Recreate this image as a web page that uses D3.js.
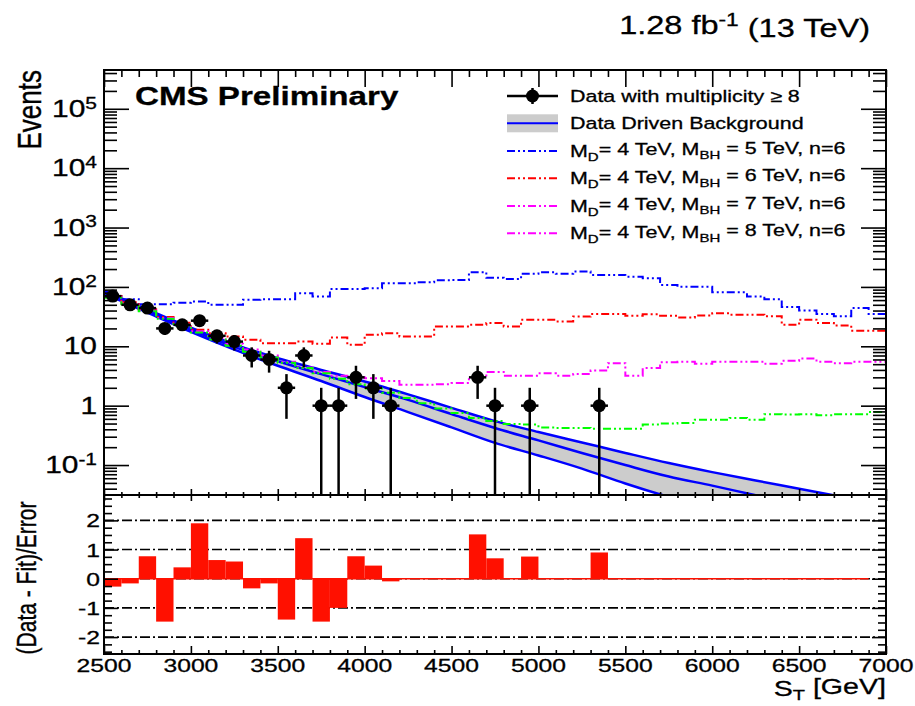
<!DOCTYPE html>
<html><head><meta charset="utf-8">
<script src="https://cdn.jsdelivr.net/npm/d3@7"></script>
<style>
body{margin:0;background:#fff}
svg{display:block}
text{font-family:"Liberation Sans",Arial,Helvetica,sans-serif;fill:#000;stroke:#000;stroke-width:0.3}
</style>
</head><body>
<svg id="c" width="915" height="706"></svg>
<script>
// ---------------- DATA ----------------
const binLow = [2500,2600,2700,2800,2900,3000,3100,3200,3300,3400,3500,3600,3700,3800,3900,4000,4100,4200,4300,4400,4500,4600,4700,4800,4900,5000,5100,5200,5300,5400,5500,5600,5700,5800,5900,6000,6100,6200,6300,6400,6500,6600,6700,6800,6900];
const sigMBH5 = [70,62,51,51,54,57,50,50,61,62,62,78,69,92,92,95,115,115,120,129,131,177,142,136,166,177,167,181,159,159,149,140,108,101,101,81,81,69,62,46,40,35,32,44,35];
const sigMBH6 = [70,55,42,31,25,19,16.6,14.6,12.9,11.3,11.3,12,11,14,10.6,15.6,16.6,14.6,14.6,21.5,21.5,23,24.6,21.5,27.9,27.9,26.2,31.8,35,35,32.6,34.8,32.6,30.5,33,36,34,34,32,23,28,24.6,22.4,18.2,18.2];
const sigMBH7 = [67,52,40,30,23,18,14,11,8.8,7,5.5,4.4,3.7,3.2,3.0,2.9,2.6,2.25,2.25,2.3,2.4,3.0,3.7,3.2,3.2,3.5,3.2,3.4,3.9,5.2,3.2,4.3,5.4,5.5,5.1,5.5,5.5,5.5,5.1,5.7,6.2,5.5,5.2,5.5,5.5];
const sigMBH8 = [66,51,39,29,22,17,13,10.2,8.1,6.5,5.3,4.3,3.5,2.85,2.3,1.95,1.65,1.35,1.1,0.9,0.75,0.62,0.55,0.49,0.48,0.43,0.42,0.42,0.41,0.41,0.41,0.48,0.5,0.51,0.58,0.58,0.62,0.58,0.72,0.71,0.72,0.69,0.72,0.72,0.78];

const bgX    = [2500,2750,3000,3250,3500,3750,4000,4250,4500,4750,5000,5250,5500,5750,6000,6250,6500,6750,7000];
const bgFit  = [82,39,19,9.8,5.6,3.4,2.05,1.25,0.72,0.42,0.26,0.16,0.10,0.064,0.045,0.031,0.022,0.016,0.012];
const bgUp   = [86,41.5,20.5,10.8,6.3,4.0,2.55,1.55,0.92,0.55,0.36,0.24,0.16,0.108,0.076,0.055,0.04,0.029,0.021];
const bgDown = [78,37,17.5,8.8,4.7,2.6,1.4,0.78,0.43,0.236,0.145,0.087,0.049,0.029,0.018,0.011,0.007,0.0045,0.003];

const dataX   = [2550,2650,2750,2850,2950,3050,3150,3250,3350,3450,3550,3650,3750,3850,3950,4050,4150,4650,4750,4950,5350];
const dataN   = [70,50,44,20,23,27,15,12,7,6,2,7,1,1,3,2,1,3,1,1,1];
const dataErr = [8.4,7.1,6.6,4.5,4.8,5.2,3.9,3.5,2.6,2.4,1.4,2.6,1,1,1.7,1.4,1,1.7,1,1,1];

const ratioVals = [-0.27,-0.16,0.77,-1.47,0.39,1.9,0.64,0.59,-0.33,-0.16,-1.4,1.39,-1.47,-1.0,0.77,0.45,-0.09,0,0,0,0,1.52,0.7,0,0.76,0,0,0,0.9,0,0,0,0,0,0,0,0,0,0,0,0,0,0,0];

const xTickLabels = ["2500","3000","3500","4000","4500","5000","5500","6000","6500","7000"];
const yTickVals = [0.1,1,10,100,1000,10000,100000];
const yTickLabels = [["10","-1"],["1",""],["10",""],["10","2"],["10","3"],["10","4"],["10","5"]];
const rTickVals = [-2,-1,0,1,2];

const legendEntries = [
  {type:"data", text:"Data with multiplicity \u2265 8"},
  {type:"band", text:"Data Driven Background"},
  {type:"line", color:"#0000ff", mbh:"5"},
  {type:"line", color:"#ff0000", mbh:"6"},
  {type:"line", color:"#ff00ff", mbh:"7"},
  {type:"line", color:"#ff00ff", mbh:"8"}
];

// ---------------- LAYOUT ----------------
const L=104, R=886, T=70, MB=495, RB=654;
const SX=1.3;
const svg=d3.select("#c");
const x=d3.scaleLinear().domain([2500,7000]).range([L,R]);
const y=d3.scaleLog().domain([0.0313,4.5e5]).range([MB,T]);
const yr=d3.scaleLinear().domain([-2.58,2.87]).range([RB,MB]);

function txt(g,x0,y0,anchor,size,weight,rot){
  return g.append("text")
    .attr("transform",`translate(${x0},${y0}) scale(${SX},1)`+(rot?` rotate(${rot})`:""))
    .attr("text-anchor",anchor).attr("font-size",size).attr("font-weight",weight||"normal");
}

const defs=svg.append("defs");
defs.append("clipPath").attr("id","cm").append("rect").attr("x",L).attr("y",T).attr("width",R-L).attr("height",MB-T);
defs.append("clipPath").attr("id","cr").append("rect").attr("x",L).attr("y",MB).attr("width",R-L).attr("height",RB-MB);

// ---------------- MAIN PANEL ----------------
const gm=svg.append("g").attr("clip-path","url(#cm)");
const bg=bgX.map((v,i)=>({x:v,c:bgFit[i],u:bgUp[i],d:bgDown[i]}));
gm.append("path").datum(bg)
  .attr("d",d3.area().x(d=>x(d.x)).y0(d=>y(d.d)).y1(d=>y(d.u)).curve(d3.curveMonotoneX))
  .attr("fill","#cccccc");
["u","c","d"].forEach(k=>{
  gm.append("path").datum(bg)
    .attr("d",d3.line().x(d=>x(d.x)).y(d=>y(d[k])).curve(d3.curveMonotoneX))
    .attr("fill","none").attr("stroke","#0000ff").attr("stroke-width",2.5);
});

const dash="8,3,2,3,2,3";
const sigs=[[sigMBH5,"#0000ff"],[sigMBH6,"#ff0000"],[sigMBH7,"#ff00ff"],[sigMBH8,"#00ff00"]];
sigs.forEach(([vals,col])=>{
  const pts=binLow.map((b,i)=>[b,vals[i]]);
  pts.push([7000,vals[vals.length-1]]);
  gm.append("path").datum(pts)
    .attr("d",d3.line().x(d=>x(d[0])).y(d=>y(d[1])).curve(d3.curveStepAfter))
    .attr("fill","none").attr("stroke",col).attr("stroke-width",2).attr("stroke-dasharray",dash);
});

const gd=gm.append("g");
dataX.forEach((cx,i)=>{
  const n=dataN[i], e=dataErr[i];
  gd.append("line").attr("x1",x(cx-50)).attr("x2",x(cx+50)).attr("y1",y(n)).attr("y2",y(n))
    .attr("stroke","#000").attr("stroke-width",2.5);
  gd.append("line").attr("x1",x(cx)).attr("x2",x(cx)).attr("y1",y(n+e)).attr("y2",y(Math.max(n-e,1e-3)))
    .attr("stroke","#000").attr("stroke-width",2.5);
  gd.append("circle").attr("cx",x(cx)).attr("cy",y(n)).attr("r",6.5).attr("fill","#000");
});

// ---------------- RATIO PANEL ----------------
const gr=svg.append("g").attr("clip-path","url(#cr)");
rTickVals.forEach(v=>{
  gr.append("line").attr("x1",L).attr("x2",R).attr("y1",yr(v)).attr("y2",yr(v))
    .attr("stroke","#000").attr("stroke-width",1.6).attr("stroke-dasharray","10,3,2,3");
});
ratioVals.forEach((v,i)=>{
  if(v===0) return;
  const b=binLow[i];
  gr.append("rect").attr("x",x(b)).attr("width",x(b+100)-x(b))
    .attr("y",yr(Math.max(v,0))).attr("height",Math.abs(yr(v)-yr(0)))
    .attr("fill","#ff1000");
});
gr.append("line").attr("x1",x(binLow[0])).attr("x2",x(binLow[ratioVals.length-1]+100))
  .attr("y1",yr(0)).attr("y2",yr(0)).attr("stroke","#ff1000").attr("stroke-width",1.6);

// ---------------- AXES / TICKS ----------------
const xMaj=d3.range(2500,7001,500), xMin=d3.range(2500,7001,100).filter(v=>v%500!==0);
const yMin=[];
[0.01,0.1,1,10,100,1000,10000,100000].forEach(d=>{for(let k=2;k<=9;k++){const v=k*d; if(v>0.0313&&v<4.5e5) yMin.push(v);}});
const rMin=d3.range(-2.5,2.76,0.25).filter(v=>Math.abs(v-Math.round(v))>1e-6);

function ticks(g,scale,orient,pos,vals,len){
  let ax;
  if(orient==="right") ax=d3.axisRight(scale);
  if(orient==="left") ax=d3.axisLeft(scale);
  if(orient==="top") ax=d3.axisTop(scale);
  if(orient==="bottom") ax=d3.axisBottom(scale);
  ax.tickValues(vals).tickSize(len).tickFormat("").tickSizeOuter(0);
  const tr=(orient==="right"||orient==="left")?`translate(${pos},0)`:`translate(0,${pos})`;
  const a=g.append("g").attr("transform",tr).call(ax);
  a.select(".domain").remove();
  a.selectAll("line").attr("stroke","#000").attr("stroke-width",1.6);
}
const ga=svg.append("g");
ticks(ga,y,"right",L,yTickVals,25);
ticks(ga,y,"right",L,yMin,13);
ticks(ga,y,"left",R,yTickVals,25);
ticks(ga,y,"left",R,yMin,13);
ticks(ga,x,"bottom",T,xMaj,17);
ticks(ga,x,"bottom",T,xMin,7);
ticks(ga,x,"top",MB,xMaj,6);
ticks(ga,x,"top",MB,xMin,3);
ticks(ga,yr,"right",L,rTickVals,14);
ticks(ga,yr,"right",L,rMin,8);
ticks(ga,yr,"left",R,rTickVals,14);
ticks(ga,yr,"left",R,rMin,8);
ticks(ga,x,"bottom",MB,xMaj,6);
ticks(ga,x,"bottom",MB,xMin,3);
ticks(ga,x,"top",RB,xMaj,8);
ticks(ga,x,"top",RB,xMin,4);

svg.append("rect").attr("x",L).attr("y",T).attr("width",R-L).attr("height",MB-T).attr("fill","none").attr("stroke","#000").attr("stroke-width",2);
svg.append("rect").attr("x",L).attr("y",MB).attr("width",R-L).attr("height",RB-MB).attr("fill","none").attr("stroke","#000").attr("stroke-width",2);

// tick labels
const gl=svg.append("g");
yTickVals.forEach((v,i)=>{
  const t=txt(gl,97,y(v)+8,"end",23);
  t.append("tspan").text(yTickLabels[i][0]);
  if(yTickLabels[i][1]) t.append("tspan").attr("dy","-0.5em").attr("font-size","70%").text(yTickLabels[i][1]);
});
rTickVals.forEach(v=>{ txt(gl,100,yr(v)+7,"end",19).text(String(v)); });
xMaj.forEach((v,i)=>{ txt(gl,x(v),672,"middle",19).text(xTickLabels[i]); });

// axis titles
txt(gl,41,T,"end",26,"normal",-90).text("Events");
txt(gl,36,578,"middle",21,"normal",-90).text("(Data - Fit)/Error");
{
  const t=txt(gl,R,696,"end",22);
  t.append("tspan").text("S");
  t.append("tspan").attr("dy","0.25em").attr("font-size","70%").text("T");
  t.append("tspan").attr("dy","-0.25em").text(" [GeV]");
}
{
  const t=txt(gl,870,34,"end",25);
  t.append("tspan").text("1.28 fb");
  t.append("tspan").attr("dy","-0.45em").attr("font-size","70%").text("-1");
  t.append("tspan").attr("dy","0.45em").text(" (13 TeV)");
}
txt(gl,135,105,"start",25.5,"bold").text("CMS Preliminary");

// legend
const lg=svg.append("g");
const rowY=[96,123.3,151,178.3,206,233.3];
legendEntries.forEach((e,i)=>{
  const cy=rowY[i];
  if(e.type==="data"){
    lg.append("line").attr("x1",507).attr("x2",558).attr("y1",cy).attr("y2",cy).attr("stroke","#000").attr("stroke-width",2.5);
    lg.append("line").attr("x1",532.5).attr("x2",532.5).attr("y1",cy-8).attr("y2",cy+8).attr("stroke","#000").attr("stroke-width",2.5);
    lg.append("circle").attr("cx",532.5).attr("cy",cy).attr("r",6.5).attr("fill","#000");
  } else if(e.type==="band"){
    lg.append("rect").attr("x",507).attr("y",cy-9).attr("width",51).attr("height",18).attr("fill","#cccccc");
    lg.append("line").attr("x1",507).attr("x2",558).attr("y1",cy).attr("y2",cy).attr("stroke","#0000ff").attr("stroke-width",2);
  } else {
    lg.append("line").attr("x1",507).attr("x2",558).attr("y1",cy).attr("y2",cy).attr("stroke",e.color).attr("stroke-width",2).attr("stroke-dasharray",dash);
  }
  const t=txt(lg,570,cy+6,"start",16.5);
  if(e.type==="line"){
    t.append("tspan").text("M");
    t.append("tspan").attr("dy","0.35em").attr("font-size","70%").text("D");
    t.append("tspan").attr("dy","-0.35em").text("= 4 TeV, M");
    t.append("tspan").attr("dy","0.35em").attr("font-size","70%").text("BH");
    t.append("tspan").attr("dy","-0.35em").text(` = ${e.mbh} TeV, n=6`);
  } else t.text(e.text);
});
</script>
</body></html>
